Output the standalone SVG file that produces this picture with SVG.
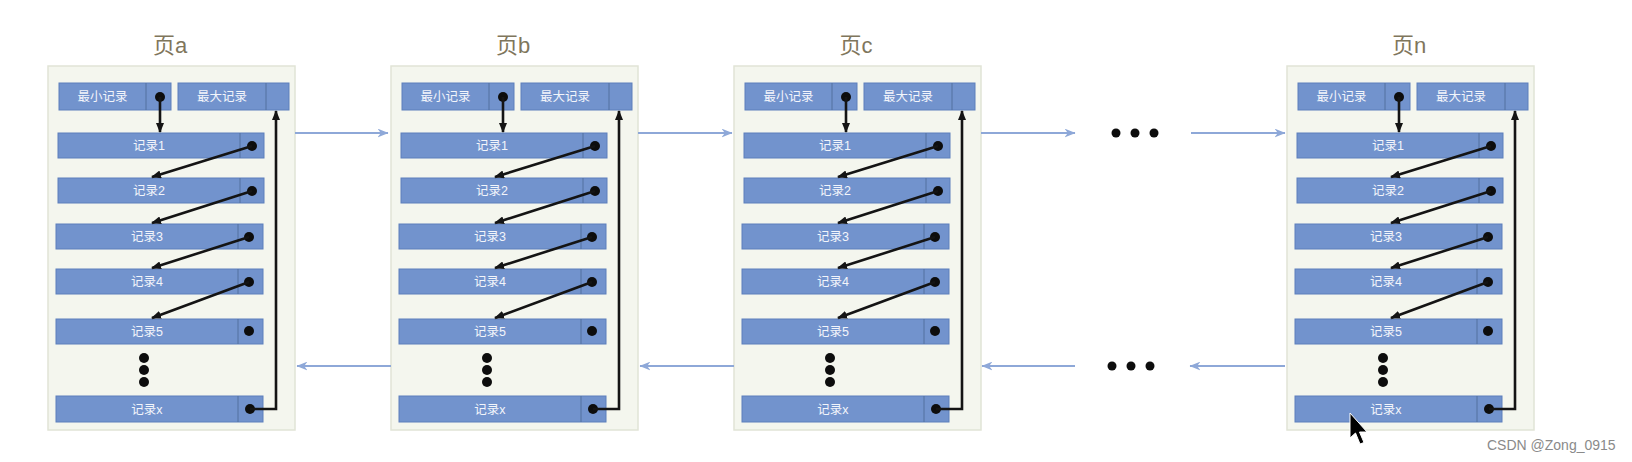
<svg xmlns="http://www.w3.org/2000/svg" width="1632" height="462" viewBox="0 0 1632 462">
<style>
.bg{fill:#ffffff}
.page{fill:#f4f6ee;stroke:#e1e4d6;stroke-width:1.5}
.title{font-family:"Liberation Sans","Noto Sans CJK SC",sans-serif;font-size:22px;fill:#7f765c;text-anchor:middle}
.rec{fill:#7293cd;stroke:#5d7fbb;stroke-width:1}
.div{stroke:#52709f;stroke-width:1}
.lbl{font-family:"Liberation Sans","Noto Sans CJK SC",sans-serif;font-size:12.5px;fill:#f2f5fb;text-anchor:middle}
.dot{fill:#0d0d0d}
.ptr{fill:none;stroke:#141414;stroke-width:2.6}
.link{fill:none;stroke:#8ea8d8;stroke-width:2}
.wm{font-family:"Liberation Sans",sans-serif;font-size:14px;fill:#8a8a8a}
</style>
<defs>
<marker id="blk" viewBox="0 0 10 8" refX="9" refY="4" markerWidth="10" markerHeight="8" markerUnits="userSpaceOnUse" orient="auto">
<path d="M0,0 L10,4 L0,8 Z" fill="#141414"/>
</marker>
<marker id="blu" viewBox="0 0 10 8" refX="9.5" refY="4" markerWidth="11" markerHeight="9" markerUnits="userSpaceOnUse" orient="auto">
<path d="M0,0 L10,4 L0,8 L3,4 Z" fill="#8ea8d8"/>
</marker>
</defs>
<rect class="bg" x="0" y="0" width="1632" height="462"/>

<g id="page-a" transform="translate(48,0)">
<text class="title" x="122" y="53">页a</text>
<rect class="page" x="0" y="66" width="247" height="364"/>
<g id="page-a-min"><rect class="rec" x="11" y="83" width="112" height="27"/><line class="div" x1="98" y1="83" x2="98" y2="110"/><text class="lbl" x="54.5" y="101">最小记录</text><circle class="dot" cx="112" cy="97" r="5"/></g>
<g id="page-a-max"><rect class="rec" x="130" y="83" width="111" height="27"/><line class="div" x1="218" y1="83" x2="218" y2="110"/><text class="lbl" x="174" y="101">最大记录</text></g>
<g id="page-a-r1"><rect class="rec" x="10" y="133" width="206" height="25"/><line class="div" x1="192" y1="133" x2="192" y2="158"/><text class="lbl" x="101" y="150">记录1</text><circle class="dot" cx="204" cy="146" r="5"/></g>
<g id="page-a-r2"><rect class="rec" x="10" y="178" width="206" height="25"/><line class="div" x1="192" y1="178" x2="192" y2="203"/><text class="lbl" x="101" y="195">记录2</text><circle class="dot" cx="204" cy="191" r="5"/></g>
<g id="page-a-r3"><rect class="rec" x="8" y="224" width="207" height="25"/><line class="div" x1="190" y1="224" x2="190" y2="249"/><text class="lbl" x="99" y="241">记录3</text><circle class="dot" cx="201" cy="237" r="5"/></g>
<g id="page-a-r4"><rect class="rec" x="8" y="269" width="207" height="25"/><line class="div" x1="190" y1="269" x2="190" y2="294"/><text class="lbl" x="99" y="286">记录4</text><circle class="dot" cx="201" cy="282" r="5"/></g>
<g id="page-a-r5"><rect class="rec" x="8" y="319" width="207" height="25"/><line class="div" x1="190" y1="319" x2="190" y2="344"/><text class="lbl" x="99" y="336">记录5</text><circle class="dot" cx="201" cy="331" r="5"/></g>
<circle class="dot" cx="96" cy="358" r="5"/><circle class="dot" cx="96" cy="370" r="5"/><circle class="dot" cx="96" cy="382" r="5"/>
<g id="page-a-rx"><rect class="rec" x="8" y="396" width="207" height="26"/><line class="div" x1="190" y1="396" x2="190" y2="422"/><text class="lbl" x="99" y="413.5">记录x</text><circle class="dot" cx="202" cy="409" r="5"/></g>
</g>

<g id="page-b" transform="translate(391,0)">
<text class="title" x="122" y="53">页b</text>
<rect class="page" x="0" y="66" width="247" height="364"/>
<g id="page-b-min"><rect class="rec" x="11" y="83" width="112" height="27"/><line class="div" x1="98" y1="83" x2="98" y2="110"/><text class="lbl" x="54.5" y="101">最小记录</text><circle class="dot" cx="112" cy="97" r="5"/></g>
<g id="page-b-max"><rect class="rec" x="130" y="83" width="111" height="27"/><line class="div" x1="218" y1="83" x2="218" y2="110"/><text class="lbl" x="174" y="101">最大记录</text></g>
<g id="page-b-r1"><rect class="rec" x="10" y="133" width="206" height="25"/><line class="div" x1="192" y1="133" x2="192" y2="158"/><text class="lbl" x="101" y="150">记录1</text><circle class="dot" cx="204" cy="146" r="5"/></g>
<g id="page-b-r2"><rect class="rec" x="10" y="178" width="206" height="25"/><line class="div" x1="192" y1="178" x2="192" y2="203"/><text class="lbl" x="101" y="195">记录2</text><circle class="dot" cx="204" cy="191" r="5"/></g>
<g id="page-b-r3"><rect class="rec" x="8" y="224" width="207" height="25"/><line class="div" x1="190" y1="224" x2="190" y2="249"/><text class="lbl" x="99" y="241">记录3</text><circle class="dot" cx="201" cy="237" r="5"/></g>
<g id="page-b-r4"><rect class="rec" x="8" y="269" width="207" height="25"/><line class="div" x1="190" y1="269" x2="190" y2="294"/><text class="lbl" x="99" y="286">记录4</text><circle class="dot" cx="201" cy="282" r="5"/></g>
<g id="page-b-r5"><rect class="rec" x="8" y="319" width="207" height="25"/><line class="div" x1="190" y1="319" x2="190" y2="344"/><text class="lbl" x="99" y="336">记录5</text><circle class="dot" cx="201" cy="331" r="5"/></g>
<circle class="dot" cx="96" cy="358" r="5"/><circle class="dot" cx="96" cy="370" r="5"/><circle class="dot" cx="96" cy="382" r="5"/>
<g id="page-b-rx"><rect class="rec" x="8" y="396" width="207" height="26"/><line class="div" x1="190" y1="396" x2="190" y2="422"/><text class="lbl" x="99" y="413.5">记录x</text><circle class="dot" cx="202" cy="409" r="5"/></g>
</g>

<g id="page-c" transform="translate(734,0)">
<text class="title" x="122" y="53">页c</text>
<rect class="page" x="0" y="66" width="247" height="364"/>
<g id="page-c-min"><rect class="rec" x="11" y="83" width="112" height="27"/><line class="div" x1="98" y1="83" x2="98" y2="110"/><text class="lbl" x="54.5" y="101">最小记录</text><circle class="dot" cx="112" cy="97" r="5"/></g>
<g id="page-c-max"><rect class="rec" x="130" y="83" width="111" height="27"/><line class="div" x1="218" y1="83" x2="218" y2="110"/><text class="lbl" x="174" y="101">最大记录</text></g>
<g id="page-c-r1"><rect class="rec" x="10" y="133" width="206" height="25"/><line class="div" x1="192" y1="133" x2="192" y2="158"/><text class="lbl" x="101" y="150">记录1</text><circle class="dot" cx="204" cy="146" r="5"/></g>
<g id="page-c-r2"><rect class="rec" x="10" y="178" width="206" height="25"/><line class="div" x1="192" y1="178" x2="192" y2="203"/><text class="lbl" x="101" y="195">记录2</text><circle class="dot" cx="204" cy="191" r="5"/></g>
<g id="page-c-r3"><rect class="rec" x="8" y="224" width="207" height="25"/><line class="div" x1="190" y1="224" x2="190" y2="249"/><text class="lbl" x="99" y="241">记录3</text><circle class="dot" cx="201" cy="237" r="5"/></g>
<g id="page-c-r4"><rect class="rec" x="8" y="269" width="207" height="25"/><line class="div" x1="190" y1="269" x2="190" y2="294"/><text class="lbl" x="99" y="286">记录4</text><circle class="dot" cx="201" cy="282" r="5"/></g>
<g id="page-c-r5"><rect class="rec" x="8" y="319" width="207" height="25"/><line class="div" x1="190" y1="319" x2="190" y2="344"/><text class="lbl" x="99" y="336">记录5</text><circle class="dot" cx="201" cy="331" r="5"/></g>
<circle class="dot" cx="96" cy="358" r="5"/><circle class="dot" cx="96" cy="370" r="5"/><circle class="dot" cx="96" cy="382" r="5"/>
<g id="page-c-rx"><rect class="rec" x="8" y="396" width="207" height="26"/><line class="div" x1="190" y1="396" x2="190" y2="422"/><text class="lbl" x="99" y="413.5">记录x</text><circle class="dot" cx="202" cy="409" r="5"/></g>
</g>

<g id="page-n" transform="translate(1287,0)">
<text class="title" x="122" y="53">页n</text>
<rect class="page" x="0" y="66" width="247" height="364"/>
<g id="page-n-min"><rect class="rec" x="11" y="83" width="112" height="27"/><line class="div" x1="98" y1="83" x2="98" y2="110"/><text class="lbl" x="54.5" y="101">最小记录</text><circle class="dot" cx="112" cy="97" r="5"/></g>
<g id="page-n-max"><rect class="rec" x="130" y="83" width="111" height="27"/><line class="div" x1="218" y1="83" x2="218" y2="110"/><text class="lbl" x="174" y="101">最大记录</text></g>
<g id="page-n-r1"><rect class="rec" x="10" y="133" width="206" height="25"/><line class="div" x1="192" y1="133" x2="192" y2="158"/><text class="lbl" x="101" y="150">记录1</text><circle class="dot" cx="204" cy="146" r="5"/></g>
<g id="page-n-r2"><rect class="rec" x="10" y="178" width="206" height="25"/><line class="div" x1="192" y1="178" x2="192" y2="203"/><text class="lbl" x="101" y="195">记录2</text><circle class="dot" cx="204" cy="191" r="5"/></g>
<g id="page-n-r3"><rect class="rec" x="8" y="224" width="207" height="25"/><line class="div" x1="190" y1="224" x2="190" y2="249"/><text class="lbl" x="99" y="241">记录3</text><circle class="dot" cx="201" cy="237" r="5"/></g>
<g id="page-n-r4"><rect class="rec" x="8" y="269" width="207" height="25"/><line class="div" x1="190" y1="269" x2="190" y2="294"/><text class="lbl" x="99" y="286">记录4</text><circle class="dot" cx="201" cy="282" r="5"/></g>
<g id="page-n-r5"><rect class="rec" x="8" y="319" width="207" height="25"/><line class="div" x1="190" y1="319" x2="190" y2="344"/><text class="lbl" x="99" y="336">记录5</text><circle class="dot" cx="201" cy="331" r="5"/></g>
<circle class="dot" cx="96" cy="358" r="5"/><circle class="dot" cx="96" cy="370" r="5"/><circle class="dot" cx="96" cy="382" r="5"/>
<g id="page-n-rx"><rect class="rec" x="8" y="396" width="207" height="26"/><line class="div" x1="190" y1="396" x2="190" y2="422"/><text class="lbl" x="99" y="413.5">记录x</text><circle class="dot" cx="202" cy="409" r="5"/></g>
</g>

<g id="ellipsis">
<circle class="dot" cx="1116" cy="133" r="4.5"/><circle class="dot" cx="1135" cy="133" r="4.5"/><circle class="dot" cx="1154" cy="133" r="4.5"/>
<circle class="dot" cx="1112" cy="366" r="4.5"/><circle class="dot" cx="1131" cy="366" r="4.5"/><circle class="dot" cx="1150" cy="366" r="4.5"/>
</g>

<g id="connectors">
<g id="ptrs-a" transform="translate(48,0)">
<path class="ptr" d="M112,97 V132" marker-end="url(#blk)"/>
<path class="ptr" d="M204,146 L104,177" marker-end="url(#blk)"/>
<path class="ptr" d="M204,191 L104,223" marker-end="url(#blk)"/>
<path class="ptr" d="M201,237 L104,268" marker-end="url(#blk)"/>
<path class="ptr" d="M201,282 L104,318" marker-end="url(#blk)"/>
<path class="ptr" d="M202,409 H228 V111" marker-end="url(#blk)"/>
</g>
<g id="ptrs-b" transform="translate(391,0)">
<path class="ptr" d="M112,97 V132" marker-end="url(#blk)"/>
<path class="ptr" d="M204,146 L104,177" marker-end="url(#blk)"/>
<path class="ptr" d="M204,191 L104,223" marker-end="url(#blk)"/>
<path class="ptr" d="M201,237 L104,268" marker-end="url(#blk)"/>
<path class="ptr" d="M201,282 L104,318" marker-end="url(#blk)"/>
<path class="ptr" d="M202,409 H228 V111" marker-end="url(#blk)"/>
</g>
<g id="ptrs-c" transform="translate(734,0)">
<path class="ptr" d="M112,97 V132" marker-end="url(#blk)"/>
<path class="ptr" d="M204,146 L104,177" marker-end="url(#blk)"/>
<path class="ptr" d="M204,191 L104,223" marker-end="url(#blk)"/>
<path class="ptr" d="M201,237 L104,268" marker-end="url(#blk)"/>
<path class="ptr" d="M201,282 L104,318" marker-end="url(#blk)"/>
<path class="ptr" d="M202,409 H228 V111" marker-end="url(#blk)"/>
</g>
<g id="ptrs-n" transform="translate(1287,0)">
<path class="ptr" d="M112,97 V132" marker-end="url(#blk)"/>
<path class="ptr" d="M204,146 L104,177" marker-end="url(#blk)"/>
<path class="ptr" d="M204,191 L104,223" marker-end="url(#blk)"/>
<path class="ptr" d="M201,237 L104,268" marker-end="url(#blk)"/>
<path class="ptr" d="M201,282 L104,318" marker-end="url(#blk)"/>
<path class="ptr" d="M202,409 H228 V111" marker-end="url(#blk)"/>
</g>
<g id="links">
<path class="link" d="M295,133 H388" marker-end="url(#blu)"/>
<path class="link" d="M638,133 H732" marker-end="url(#blu)"/>
<path class="link" d="M981,133 H1075" marker-end="url(#blu)"/>
<path class="link" d="M1191,133 H1285" marker-end="url(#blu)"/>
<path class="link" d="M391,366 H297" marker-end="url(#blu)"/>
<path class="link" d="M734,366 H640" marker-end="url(#blu)"/>
<path class="link" d="M1075,366 H982" marker-end="url(#blu)"/>
<path class="link" d="M1285,366 H1190" marker-end="url(#blu)"/>
</g>
</g>

<path id="cursor" d="M1350,413 L1350,438 L1355.5,433 L1360,444 L1364,442.5 L1359.5,432 L1367,432 Z" fill="#000000" stroke="#ffffff" stroke-width="1"/>
<text class="wm" x="1487" y="450">CSDN @Zong_0915</text>
</svg>
